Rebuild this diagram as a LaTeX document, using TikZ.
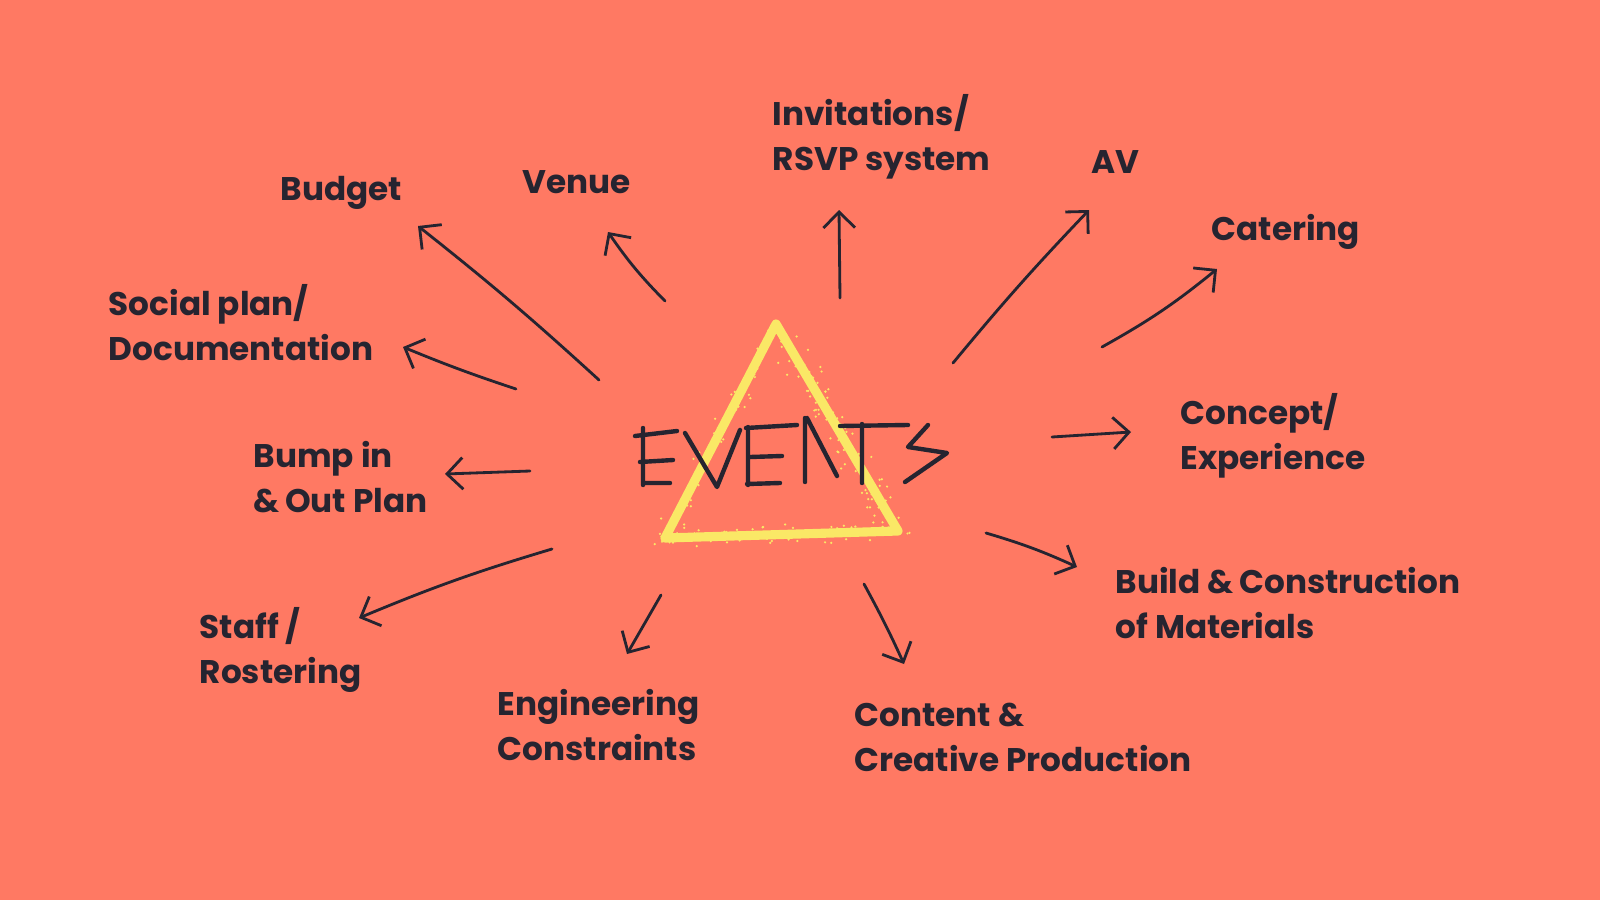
\documentclass[tikz,border=0pt]{standalone}
\usepackage{fontspec}
\setmainfont{Poppins}
\usepackage{tikz}
\usetikzlibrary{arrows.meta,calc}
\definecolor{coral}{RGB}{255,121,99}
\definecolor{ink}{RGB}{38,36,48}
\definecolor{chalk}{RGB}{250,232,102}

\begin{document}
\begin{tikzpicture}[
    x=0.01cm, y=-0.01cm,
    lbl/.style={anchor=west, align=left, inner sep=0pt, text=ink, font=\bfseries\fontsize{9.3}{12.8}\selectfont},
    spoke/.style={draw=ink, line width=0.8pt, line cap=round, -{Straight Barb[length=4.5pt,width=9pt]}},
    pen/.style={draw=ink, line width=1.25pt, line cap=round, line join=round},
    chalkline/.style={draw=chalk, line width=2.6pt, line cap=round, line join=round}
]
    \fill[coral] (0,0) rectangle (1600,900);

    % Triangle
    \coordinate (apex) at (776,324);
    \coordinate (bl) at (665,538);
    \coordinate (br) at (898,531);
    \draw[chalkline] (apex) -- (br) -- (bl) -- cycle;
    \pgfmathsetseed{12}
    \foreach \i in {1,...,110} {
        \pgfmathsetmacro{\ps}{rnd}
        \pgfmathsetmacro{\sx}{14*rand}
        \pgfmathsetmacro{\sy}{14*rand}
        \fill[chalk] ($(apex)!\ps!(br)+(\sx,\sy)$) circle (0.35pt);
    }
    \foreach \i in {1,...,60} {
        \pgfmathsetmacro{\ps}{rnd}
        \pgfmathsetmacro{\sx}{12*rand}
        \pgfmathsetmacro{\sy}{10*rand}
        \fill[chalk] ($(bl)!\ps!(br)+(\sx,\sy)$) circle (0.35pt);
    }
    \foreach \i in {1,...,45} {
        \pgfmathsetmacro{\ps}{rnd}
        \pgfmathsetmacro{\sx}{12*rand}
        \pgfmathsetmacro{\sy}{12*rand}
        \fill[chalk] ($(apex)!\ps!(bl)+(\sx,\sy)$) circle (0.35pt);
    }

    % EVENTS
    \draw[pen] (643,428) -- (643,485) (635,436) -- (677,431) (640,462) -- (673,460) (643,483) -- (670,483);
    \draw[pen] (685,433) -- (717,487) -- (740,430);
    \draw[pen] (748,427) -- (748,485) (746,428) -- (797,425) (750,457) -- (782,456) (747,484) -- (780,483);
    \draw[pen] (805,482) -- (805,418) (807,418) -- (837,476);
    \draw[pen] (840,426) -- (908,425) (862,424) -- (862,483);
    \draw[pen] (928,425) -- (908,447) -- (947,453) -- (905,482);

    % Labels
    \node[lbl] (budget) at (280,193) {Budget};
    \node[lbl] (venue) at (522,182) {Venue};
    \node[lbl] (invite) at (772,137) {Invitations/\\RSVP system};
    \node[lbl] (av) at (1091,162) {AV};
    \node[lbl] (catering) at (1211,232) {Catering};
    \node[lbl] (social) at (108,323) {Social plan/\\Documentation};
    \node[lbl] (bump) at (253,477) {Bump in\\\&\,Out Plan};
    \node[lbl] (concept) at (1180,436) {Concept/\\Experience};
    \node[lbl] (build) at (1115,603) {Build \&\,Construction\\of Materials};
    \node[lbl] (staff) at (199,650) {Staff /\\Rostering};
    \node[lbl] (eng) at (497,725) {Engineering\\Constraints};
    \node[lbl] (content) at (854,737) {Content \&\\Creative Production};

    % Arrow ends
    \coordinate (budget-s) at (599,380);   \coordinate (budget-e) at (418,226);
    \coordinate (venue-s) at (665,301);    \coordinate (venue-e) at (608,232);
    \coordinate (invite-s) at (840,298);   \coordinate (invite-e) at (839,210);
    \coordinate (av-s) at (953,363);       \coordinate (av-e) at (1089,210);
    \coordinate (catering-s) at (1102,347); \coordinate (catering-e) at (1217,269);
    \coordinate (social-s) at (516,389);   \coordinate (social-e) at (403,347);
    \coordinate (bump-s) at (530,471);     \coordinate (bump-e) at (445,474);
    \coordinate (concept-s) at (1052,437); \coordinate (concept-e) at (1131,432);
    \coordinate (build-s) at (986,533);    \coordinate (build-e) at (1077,567);
    \coordinate (staff-s) at (552,549);    \coordinate (staff-e) at (359,618);
    \coordinate (eng-s) at (661,595);      \coordinate (eng-e) at (627,654);
    \coordinate (content-s) at (864,584);  \coordinate (content-e) at (904,664);

    % Arrows
    \draw[spoke] (budget-s) to[bend right=2] (budget-e);
    \draw[spoke] (venue-s) to[bend left=5] (venue-e);
    \draw[spoke] (invite-s) -- (invite-e);
    \draw[spoke] (av-s) to[bend left=2] (av-e);
    \draw[spoke] (catering-s) to[bend right=5] (catering-e);
    \draw[spoke] (social-s) to[bend left=2] (social-e);
    \draw[spoke] (bump-s) -- (bump-e);
    \draw[spoke] (concept-s) -- (concept-e);
    \draw[spoke] (build-s) to[bend left=4] (build-e);
    \draw[spoke] (staff-s) to[bend right=3] (staff-e);
    \draw[spoke] (eng-s) -- (eng-e);
    \draw[spoke] (content-s) to[bend left=2] (content-e);
\end{tikzpicture}
\end{document}
